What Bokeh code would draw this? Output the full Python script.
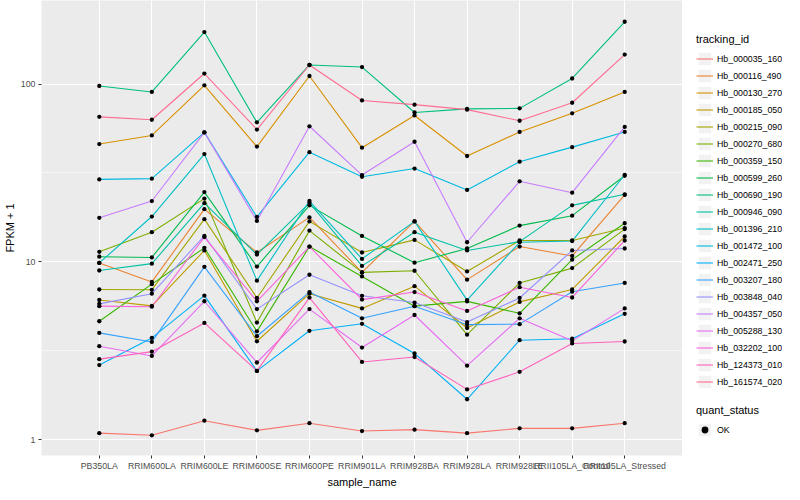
from bokeh.plotting import figure
from bokeh.layouts import row
from bokeh.models import (FactorRange, Range1d, FixedTicker, PrintfTickFormatter,
                          Legend, LegendItem)
from bokeh.embed import file_html
from bokeh.resources import INLINE

samples = ["PB350LA", "RRIM600LA", "RRIM600LE", "RRIM600SE", "RRIM600PE", "RRIM901LA",
           "RRIM928BA", "RRIM928LA", "RRIM928LE", "RRII105LA_Control", "RRII105LA_Stressed"]

tracking_ids = ["Hb_000035_160", "Hb_000116_490", "Hb_000130_270", "Hb_000185_050",
                "Hb_000215_090", "Hb_000270_680", "Hb_000359_150", "Hb_000599_260",
                "Hb_000690_190", "Hb_000946_090", "Hb_001396_210", "Hb_001472_100",
                "Hb_002471_250", "Hb_003207_180", "Hb_003848_040", "Hb_004357_050",
                "Hb_005288_130", "Hb_032202_100", "Hb_124373_010", "Hb_161574_020"]

# FPKM + 1 per sample (order of `samples`)
hb_000035_160 = [1.09, 1.06, 1.28, 1.13, 1.24, 1.12, 1.14, 1.09, 1.16, 1.16, 1.24]
hb_000116_490 = [9.87, 7.72, 19.8, 11.3, 17.8, 8.73, 16.9, 7.95, 12.2, 10.8, 23.8]
hb_000130_270 = [46.0, 51.4, 98.4, 44.5, 111.0, 43.9, 66.6, 39.4, 53.8, 68.5, 90.3]
hb_000185_050 = [6.11, 5.66, 11.6, 3.58, 6.63, 5.48, 7.31, 4.25, 5.96, 7.0, 13.9]
hb_000215_090 = [7.0, 6.97, 17.4, 6.27, 16.9, 11.3, 13.3, 8.84, 13.2, 13.2, 15.5]
hb_000270_680 = [11.4, 14.7, 22.7, 4.56, 15.0, 8.73, 8.92, 3.9, 7.62, 9.23, 15.3]
hb_000359_150 = [4.64, 7.5, 12.0, 4.07, 12.2, 8.29, 5.64, 6.0, 5.14, 10.3, 16.5]
hb_000599_260 = [10.7, 10.6, 24.7, 9.42, 20.8, 14.0, 9.9, 11.9, 16.0, 18.2, 30.5]
hb_000690_190 = [97.5, 90.3, 196.0, 60.9, 128.0, 124.6, 69.2, 72.5, 73.0, 107.5, 224.0]
hb_000946_090 = [8.95, 9.78, 21.4, 11.0, 21.5, 9.5, 14.7, 11.6, 13.0, 20.8, 24.0]
hb_001396_210 = [9.87, 18.0, 40.4, 7.85, 22.0, 10.4, 16.9, 6.1, 12.9, 13.1, 30.9]
hb_001472_100 = [29.1, 29.4, 53.5, 17.9, 41.4, 30.1, 33.5, 25.4, 36.6, 44.2, 53.8]
hb_002471_250 = [2.63, 3.74, 6.46, 2.44, 4.1, 4.49, 3.06, 1.69, 3.63, 3.7, 5.11]
hb_003207_180 = [3.99, 3.55, 9.38, 3.82, 6.77, 4.82, 5.64, 4.44, 4.47, 6.8, 7.62]
hb_003848_040 = [5.81, 6.63, 14.0, 5.43, 8.47, 6.45, 5.91, 4.59, 6.27, 11.6, 11.9]
hb_004357_050 = [17.7, 22.0, 53.5, 17.0, 57.9, 30.8, 47.4, 12.9, 28.4, 24.5, 57.4]
hb_005288_130 = [3.36, 2.96, 6.01, 2.72, 5.43, 3.3, 5.03, 2.61, 4.82, 3.6, 5.48]
hb_032202_100 = [5.64, 5.6, 13.8, 6.01, 12.2, 6.14, 6.77, 5.3, 7.21, 6.31, 13.2]
hb_124373_010 = [2.84, 3.13, 4.54, 2.44, 6.3, 2.74, 2.92, 1.92, 2.41, 3.48, 3.57]
hb_161574_020 = [65.4, 63.0, 114.6, 55.5, 128.0, 80.9, 76.6, 71.8, 62.2, 78.5, 146.5]

series = [hb_000035_160, hb_000116_490, hb_000130_270, hb_000185_050, hb_000215_090,
          hb_000270_680, hb_000359_150, hb_000599_260, hb_000690_190, hb_000946_090,
          hb_001396_210, hb_001472_100, hb_002471_250, hb_003207_180, hb_003848_040,
          hb_004357_050, hb_005288_130, hb_032202_100, hb_124373_010, hb_161574_020]

colors = ["#F8766D", "#EA8331", "#D89000", "#C09B00", "#A3A500", "#7CAE00", "#39B600",
          "#00BB4E", "#00BF7D", "#00C1A3", "#00BFC4", "#00BAE0", "#00B0F6", "#35A2FF",
          "#9590FF", "#C77CFF", "#E76BF3", "#FA62DB", "#FF62BC", "#FF6C91"]

quant_status = ["OK"]

FONT = "Liberation Sans"
FRAME_W = 641
FRAME_H = 455
LEG_W = 100
TOTAL_H = 484

p = figure(x_range=FactorRange(factors=samples, range_padding=1.2 / len(samples)),
           y_axis_type="log", y_range=Range1d(0.816, 295),
           frame_width=FRAME_W, frame_height=FRAME_H,
           min_border_top=0, min_border_bottom=0, min_border_left=0, min_border_right=0,
           output_backend="svg", toolbar_location=None)

p.background_fill_color = "#EBEBEB"
p.border_fill_color = "white"
p.outline_line_color = None

p.yaxis.ticker = FixedTicker(ticks=[1, 10, 100], minor_ticks=[10 ** 0.5, 10 ** 1.5, 10 ** 2.5])
p.yaxis.formatter = PrintfTickFormatter(format="%d")
p.xaxis.axis_label = "sample_name"
p.yaxis.axis_label = "FPKM + 1"

for ax in (p.xaxis[0], p.yaxis[0]):
    ax.axis_line_color = None
    ax.major_tick_line_color = "#333333"
    ax.major_tick_out = 3
    ax.major_tick_in = 0
    ax.minor_tick_line_color = None
    ax.major_label_text_font = FONT
    ax.major_label_text_font_size = "8.8px"
    ax.major_label_text_color = "#4D4D4D"
    ax.major_label_standoff = 2
    ax.axis_label_text_font = FONT
    ax.axis_label_text_font_size = "11px"
    ax.axis_label_text_font_style = "normal"
    ax.axis_label_text_color = "black"
    ax.axis_label_standoff = 2

p.xgrid.grid_line_color = "white"
p.xgrid.grid_line_width = 1.1
p.ygrid.grid_line_color = "white"
p.ygrid.grid_line_width = 1.1
p.ygrid.minor_grid_line_color = "white"
p.ygrid.minor_grid_line_width = 0.55

for vals, col in zip(series, colors):
    p.line(x=samples, y=vals, line_color=col, line_width=1.1)

all_x = [s for vals in series for s in samples]
all_y = [v for vals in series for v in vals]
p.scatter(x=all_x, y=all_y, size=4.3, marker="circle", fill_color="black", line_color=None)

# legend panel: a separate figure whose frame is the whole legend area.
# Key glyph renderers hold one placeholder row lying outside the (0..1) view,
# so only their legend swatches are drawn.
leg = figure(x_range=Range1d(0, 1), y_range=Range1d(0, 1),
             frame_width=LEG_W, frame_height=TOTAL_H,
             min_border_top=0, min_border_bottom=0, min_border_left=0, min_border_right=0,
             output_backend="svg", toolbar_location=None)
leg.axis.visible = False
leg.grid.visible = False
leg.outline_line_color = None
leg.background_fill_color = "white"
leg.border_fill_color = "white"

off = [5.0, 6.0]
key_bg = leg.quad(left=off[:1], right=off[1:], bottom=off[:1], top=off[1:],
                  fill_color="#F2F2F2", line_color="white")
key_lines = [leg.line(x=off, y=off, line_color=col, line_width=1.1) for col in colors]
key_pt = leg.scatter(x=off[:1], y=off[:1], size=4.3, marker="circle",
                     fill_color="black", line_color=None)

def style_legend(lg):
    lg.title_text_font = FONT
    lg.title_text_font_size = "11px"
    lg.title_text_font_style = "normal"
    lg.title_text_color = "black"
    lg.title_standoff = 5
    lg.label_text_font = FONT
    lg.label_text_font_size = "8.8px"
    lg.label_text_color = "black"
    lg.label_height = 17
    lg.glyph_height = 17
    lg.glyph_width = 17
    lg.label_standoff = 4
    lg.spacing = 0
    lg.padding = 0
    lg.margin = 0
    lg.border_line_color = None
    lg.background_fill_alpha = 0

legend1 = Legend(items=[LegendItem(label=tid, renderers=[key_bg, r])
                        for tid, r in zip(tracking_ids, key_lines)],
                 title="tracking_id", location=(14, 94))
style_legend(legend1)
leg.add_layout(legend1)

legend2 = Legend(items=[LegendItem(label=q, renderers=[key_bg, key_pt]) for q in quant_status],
                 title="quant_status", location=(14, 46))
style_legend(legend2)
leg.add_layout(legend2)

layout = row(p, leg, spacing=0)
open("out.html", "w").write(file_html(layout, INLINE))
